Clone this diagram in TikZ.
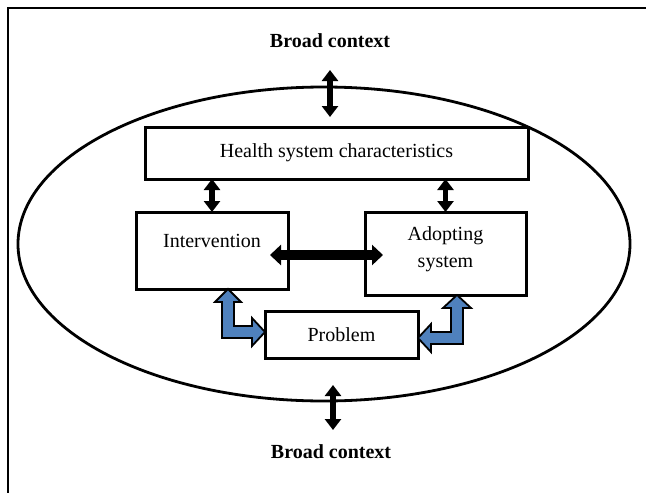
\documentclass[tikz,border=0pt]{standalone}
\usepackage{fontspec}
\setmainfont{Liberation Serif}
\usetikzlibrary{arrows.meta,calc,positioning}
\definecolor{arrowblue}{HTML}{4F81BD}

\begin{document}
\begin{tikzpicture}[x=1pt,y=-1pt,
    font=\fontsize{20}{24}\selectfont,
    box/.style={draw,line width=3pt,inner sep=0pt,outer sep=0pt,align=center},
    dblarrow/.style={line width=5.5pt,{Triangle[length=11pt,width=16pt]}-{Triangle[length=11pt,width=16pt]}},
    bigarrow/.style={line width=10pt,{Triangle[length=11pt,width=20pt]}-{Triangle[length=11pt,width=20pt]}},
    bluearrow/.style={fill=arrowblue,draw=black,line width=1.8pt,line join=miter}]

       \useasboundingbox (0,0) rectangle (646,493);

       % frame and context
       \draw[line width=2.8pt] (8,700) -- (8,8) -- (800,8);
       \draw[line width=2.8pt] (324,244) ellipse [x radius=306, y radius=157];

       \node[font=\fontsize{20}{24}\selectfont\bfseries] (ctxtop) at (330,41) {Broad context};
       \node[font=\fontsize{20}{24}\selectfont\bfseries] (ctxbot) at (331,452) {Broad context};

       \coordinate (TA) at (330,70);
       \coordinate (TB) at (330,117);
       \coordinate (BA) at (333,385);
       \coordinate (BB) at (333,430);
       \draw[dblarrow] (TA) -- (TB);
       \draw[dblarrow] (BA) -- (BB);

       % boxes
       \node[box,minimum width=383,minimum height=52] (health) at (336.5,153) {Health system characteristics};
       \node[box,minimum width=152,minimum height=77,text depth=19pt] (intv) at (212,250.5) {Intervention};
       \node[box,minimum width=161,minimum height=83,text depth=13pt] (adopt) at (445.5,253.5) {Adopting\\[3pt]system};
       \node[box,minimum width=153,minimum height=47] (prob) at (341.5,334.5) {Problem};

       % black arrows
       \draw[dblarrow] (intv.north |- health.south) -- (intv.north);
       \draw[dblarrow] (adopt.north |- health.south) -- (adopt.north);
       \draw[bigarrow] ([xshift=-18pt]intv.east |- 0,255) -- ([xshift=18pt]adopt.west |- 0,255);

       % blue elbow arrows
       \coordinate (LA) at (intv.south -| 228,0);
       \coordinate (LB) at (prob.west |- 0,332);
       \draw[bluearrow] (LA) -- ++(13,13) -- ++(-7,0) |- ($(LB)+(-13,-6)$) -- ++(0,-8) -- (LB)
       -- ++(-13,14) -- ++(0,-8) -| ($(LA)+(-6,13)$) -- ++(-7,0) -- cycle;

       \coordinate (RA) at (adopt.south -| 457,0);
       \coordinate (RB) at (prob.east |- 0,338);
       \draw[bluearrow] (RA) -- ++(14,13) -- ++(-8,0) |- ($(RB)+(13,6)$) -- ++(0,8) -- (RB)
       -- ++(13,-14) -- ++(0,8) -| ($(RA)+(-6,13)$) -- ++(-8,0) -- cycle;
\end{tikzpicture}
\end{document}
